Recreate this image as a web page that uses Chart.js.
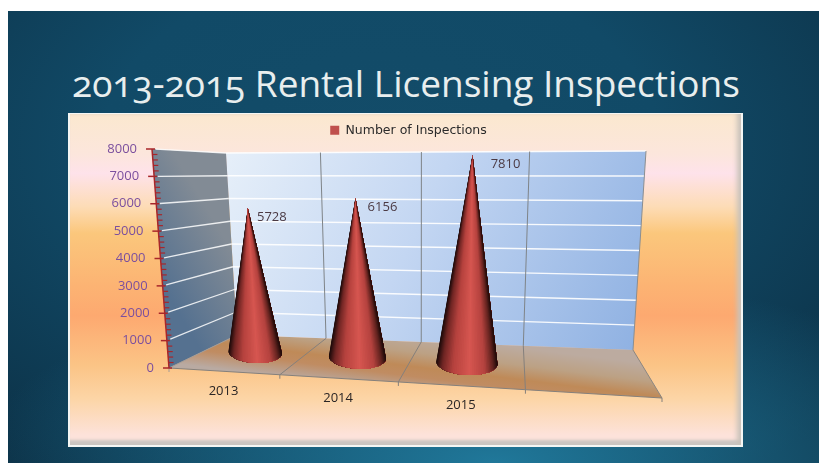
<!DOCTYPE html>
<html>
<head>
<meta charset="utf-8">
<script src="https://cdn.jsdelivr.net/npm/chart.js@4"></script>
<style>
html, body { margin: 0; padding: 0; background: #fff; }
#page { position: relative; width: 819px; height: 463px; overflow: hidden; background: #fff; filter: blur(0.35px); }
#slide {
	position: absolute; left: 8px; top: 11px; width: 811px; height: 452px;
	background:
		radial-gradient(ellipse 520px 190px at 60% 100%, #20789a 0%, rgba(32,120,154,0) 100%),
		radial-gradient(ellipse 620px 400px at 46% 30%, #134c69 0%, #114a67 45%, #0c3045 100%);
}
#title {
	position: absolute; left: 72px; top: 57px; margin: 0; white-space: nowrap;
	font: 400 37px "Open Sans", "Noto Sans", sans-serif; color: #e8eeee;
	font-feature-settings: "onum" 1;
}
#panel {
	position: absolute; left: 68px; top: 113px; width: 675px; height: 334px;
	box-sizing: border-box;
	border-top: 1px solid #f4f6f4; border-left: 2px solid #f4f6f4; border-right: 2px solid #f4f6f4; border-bottom: 2px solid #f4f6f4;
	background: linear-gradient(180deg, #fbe8cf 0%, #fce6dc 12%, #fee2ea 18%, #fddcb6 28%, #fbc77c 36%, #fcb373 52%, #fda970 61%, #fbc486 76%, #fcd5a6 86%, #fde2da 97%, #fde2da 100%);
	box-shadow: inset -6px 0 5px -2px #c9c2ba, inset 0 -7px 3px -2px #cbc6c2;
}
#chart { position: absolute; left: 0; top: 0; }
</style>
</head>
<body>
<div id="page">
	<div id="slide"></div>
	<h1 id="title">2013-2015 Rental Licensing Inspections</h1>
	<div id="panel"></div>
	<canvas id="chart" width="819" height="463"></canvas>
</div>
<script>
//chart data
let categories = ["2013", "2014", "2015", " "];
let inspections = [5728, 6156, 7810, null];
let seriesName = "Number of Inspections";
let yTicks = [0, 1000, 2000, 3000, 4000, 5000, 6000, 7000, 8000];

//corners of the 3d box on the page, u goes along the categories, v up the values, w from back to front
let box = {
	backBottomLeft: [237, 335], backBottomRight: [633, 350],
	backTopLeft: [226, 153], backTopRight: [646, 151],
	frontBottomLeft: [169, 368], frontBottomRight: [662, 398],
	frontTopLeft: [152, 149], frontTopRight: [690, 148],
};
//cones stand a bit before the middle of the floor
let coneDepth = 0.45;
//where the value labels sit compared to the tip of the cone
let labelOffsets = [[24, 9], [27, 9], [33, 9]];

function mix(a, b, t) {
	return [a[0] + (b[0] - a[0]) * t, a[1] + (b[1] - a[1]) * t];
}
//categories get wider towards the right side
function warp(u) {
	return (u * 0.87) / (1 + (0.87 - 1) * u);
}
function project(u, v, w) {
	let s = warp(u);
	let back = mix(mix(box.backBottomLeft, box.backBottomRight, s), mix(box.backTopLeft, box.backTopRight, s), v);
	let front = mix(mix(box.frontBottomLeft, box.frontBottomRight, s), mix(box.frontTopLeft, box.frontTopRight, s), v);
	return mix(back, front, w);
}
function poly(ctx, points) {
	ctx.beginPath();
	points.forEach((p, i) => (i ? ctx.lineTo(p[0], p[1]) : ctx.moveTo(p[0], p[1])));
	ctx.closePath();
}
function segment(ctx, a, b, color, width) {
	ctx.strokeStyle = color;
	ctx.lineWidth = width;
	ctx.beginPath();
	ctx.moveTo(a[0], a[1]);
	ctx.lineTo(b[0], b[1]);
	ctx.stroke();
}
//from chart scale pixels to 0..1
function toU(chart, px) {
	let area = chart.chartArea;
	return (px - area.left) / (area.right - area.left);
}
function toV(chart, value) {
	let area = chart.chartArea;
	return (area.bottom - chart.scales.y.getPixelForValue(value)) / (area.bottom - area.top);
}
function catEdge(chart, i) {
	return toU(chart, chart.scales.x.getPixelForValue(i)) - 0.5 / categories.length;
}

function drawBox(chart) {
	let ctx = chart.ctx;
	//floor
	poly(ctx, [project(0, 0, 0), project(1, 0, 0), project(1, 0, 1), project(0, 0, 1)]);
	let g = ctx.createLinearGradient(415, 335, 408, 392);
	g.addColorStop(0, "#bcaba0");
	g.addColorStop(0.3, "#bca184");
	g.addColorStop(0.55, "#bf8a58");
	g.addColorStop(0.72, "#c08c62");
	g.addColorStop(1, "#b9aaa2");
	ctx.fillStyle = g;
	ctx.fill();
	//back wall
	poly(ctx, [project(0, 0, 0), project(1, 0, 0), project(1, 1, 0), project(0, 1, 0)]);
	g = ctx.createLinearGradient(226, 153, 640, 345);
	g.addColorStop(0, "#e6eff9");
	g.addColorStop(0.45, "#c3d6f2");
	g.addColorStop(1, "#8fb1e2");
	ctx.fillStyle = g;
	ctx.fill();
	//left wall
	poly(ctx, [project(0, 0, 0), project(0, 1, 0), project(0, 1, 1), project(0, 0, 1)]);
	g = ctx.createLinearGradient(165, 290, 232, 250);
	g.addColorStop(0, "#557190");
	g.addColorStop(1, "#828b95");
	ctx.fillStyle = g;
	ctx.fill();
	//value lines
	chart.scales.y.ticks.forEach((t) => {
		let v = toV(chart, t.value);
		if (t.value == 0) return;
		segment(ctx, project(0, v, 0.95), project(0, v, 0), "rgba(255,255,255,0.85)", 1.3);
		segment(ctx, project(0, v, 0), project(1, v, 0), "rgba(255,255,255,0.9)", 1.5);
	});
	//category lines
	for (let i = 1; i < categories.length; i++) {
		let u = catEdge(chart, i);
		segment(ctx, project(u, 1, 0), project(u, 0, 0), "#7f8488", 1);
		segment(ctx, project(u, 0, 0), project(u, 0, 1), "#85807c", 1);
		let f = project(u, 0, 1);
		segment(ctx, f, [f[0], f[1] + 4], "#85807c", 1);
	}
	//edges
	segment(ctx, project(1, 1, 0), project(1, 0, 0), "#8a8d90", 1);
	segment(ctx, project(1, 0, 0), project(1, 0, 1), "#8a8580", 1);
	segment(ctx, project(0, 0, 1), project(1, 0, 1), "#85807c", 1.2);
	segment(ctx, project(0, 0, 1), project(0, 0, 0), "#a59c96", 1);
	let end = project(1, 0, 1);
	segment(ctx, end, [end[0], end[1] + 4], "#85807c", 1);
	let f0 = project(0, 0, 1);
	segment(ctx, f0, [f0[0], f0[1] + 4], "#a59c96", 1);
}

function drawYAxis(chart) {
	let ctx = chart.ctx;
	let axisColor = "#a8262a";
	segment(ctx, project(0, 1, 1), project(0, 0, 1), axisColor, 1.5);
	ctx.font = "13px 'Open Sans'";
	ctx.textAlign = "right";
	ctx.textBaseline = "middle";
	let ticks = chart.scales.y.ticks;
	ticks.forEach((t, i) => {
		let v = toV(chart, t.value);
		let p = project(0, v, 1);
		segment(ctx, [p[0] - 6, p[1]], [p[0] + 3, p[1]], axisColor, 1.5);
		ctx.fillStyle = "#7b4f9e";
		ctx.fillText(t.label, p[0] - 15, p[1]);
		//small marks between the labels
		if (i < ticks.length - 1) {
			let next = toV(chart, ticks[i + 1].value);
			for (let k = 1; k < 5; k++) {
				let m = project(0, v + ((next - v) * k) / 5, 1);
				segment(ctx, m, [m[0] + 5, m[1]], axisColor, 1.2);
			}
		}
	});
}

function drawCone(ctx, left, right, tip) {
	let cx = (left[0] + right[0]) / 2;
	let cy = (left[1] + right[1]) / 2;
	let rx = Math.hypot(right[0] - left[0], right[1] - left[1]) / 2;
	let ry = rx * 0.4;
	let tilt = Math.atan2(right[1] - left[1], right[0] - left[0]);
	let at = (a) => {
		let x = rx * Math.cos(a);
		let y = ry * Math.sin(a);
		return [cx + x * Math.cos(tilt) - y * Math.sin(tilt), cy + x * Math.sin(tilt) + y * Math.cos(tilt)];
	};
	//dark at both sides and a highlight a little right of the centre
	let stops = [[0, [28, 10, 10]], [0.1, [112, 38, 36]], [0.28, [182, 66, 62]], [0.55, [214, 86, 80]], [0.8, [180, 66, 62]], [0.93, [100, 36, 32]], [1, [34, 12, 10]]];
	let shade = (t) => {
		for (let i = 1; i < stops.length; i++) {
			if (t <= stops[i][0]) {
				let k = (t - stops[i - 1][0]) / (stops[i][0] - stops[i - 1][0]);
				let a = stops[i - 1][1];
				let b = stops[i][1];
				return "rgb(" + [0, 1, 2].map((n) => Math.round(a[n] + (b[n] - a[n]) * k)).join(",") + ")";
			}
		}
		return "rgb(34,12,10)";
	};
	//each slice covers everything right of it, the next one paints over, so no seams
	let slices = 48;
	for (let i = 0; i < slices; i++) {
		let points = [tip];
		for (let j = i; j <= slices; j++) {
			points.push(at(Math.PI - (Math.PI * j) / slices));
		}
		poly(ctx, points);
		ctx.fillStyle = shade((1 - Math.cos((Math.PI * (i + 0.5)) / slices)) / 2);
		ctx.fill();
	}
}

let box3d = {
	id: "box3d",
	beforeDatasetsDraw(chart) {
		drawBox(chart);
		drawYAxis(chart);
	},
	//the bars become cones, position and height still come from the bar elements
	beforeDatasetDraw(chart, args) {
		let ctx = chart.ctx;
		let meta = chart.getDatasetMeta(args.index);
		meta.data.forEach((bar, i) => {
			if (inspections[i] == null) return;
			let v = toV(chart, inspections[i]);
			let uLeft = toU(chart, bar.x - bar.width / 2);
			let uRight = toU(chart, bar.x + bar.width / 2);
			let u = toU(chart, bar.x);
			let tip = project(u, v, coneDepth);
			drawCone(ctx, project(uLeft, 0, coneDepth), project(uRight, 0, coneDepth), tip);
			ctx.font = "13px 'Open Sans'";
			ctx.textAlign = "center";
			ctx.textBaseline = "middle";
			ctx.fillStyle = "#4b3a44";
			ctx.fillText(String(inspections[i]), tip[0] + labelOffsets[i][0], tip[1] + labelOffsets[i][1]);
		});
		//category labels under the front edge of the floor
		ctx.font = "13px 'Open Sans'";
		ctx.fillStyle = "#2a2525";
		categories.forEach((c, i) => {
			let u = toU(chart, chart.scales.x.getPixelForValue(i));
			let p = project(u, 0, 1);
			ctx.fillText(c, p[0], p[1] + 20);
		});
		return false;
	},
};

let ctx = document.getElementById("chart").getContext("2d");
let myChart = new Chart(ctx, {
	type: "bar",
	data: {
		labels: categories,
		datasets: [
			{
				label: seriesName,
				data: inspections,
				backgroundColor: "#c0504d",
				categoryPercentage: 1,
				barPercentage: 0.54,
			},
		],
	},
	plugins: [box3d],
	options: {
		responsive: false,
		animation: false,
		layout: { padding: { top: 118, right: 2, left: 0, bottom: 60 } },
		plugins: {
			tooltip: { enabled: false },
			legend: {
				position: "top",
				labels: { boxWidth: 9, boxHeight: 9, padding: 6, color: "#2b2b2b", font: { family: "'DejaVu Sans'", size: 12.5 } },
			},
		},
		scales: {
			x: { display: false, grid: { display: false } },
			y: {
				display: false,
				min: 0,
				max: 8000,
				afterBuildTicks: (scale) => {
					scale.ticks = yTicks.map((value) => ({ value: value }));
				},
				ticks: { callback: (value) => String(value) },
				grid: { display: false },
			},
		},
	},
});
</script>
</body>
</html>
